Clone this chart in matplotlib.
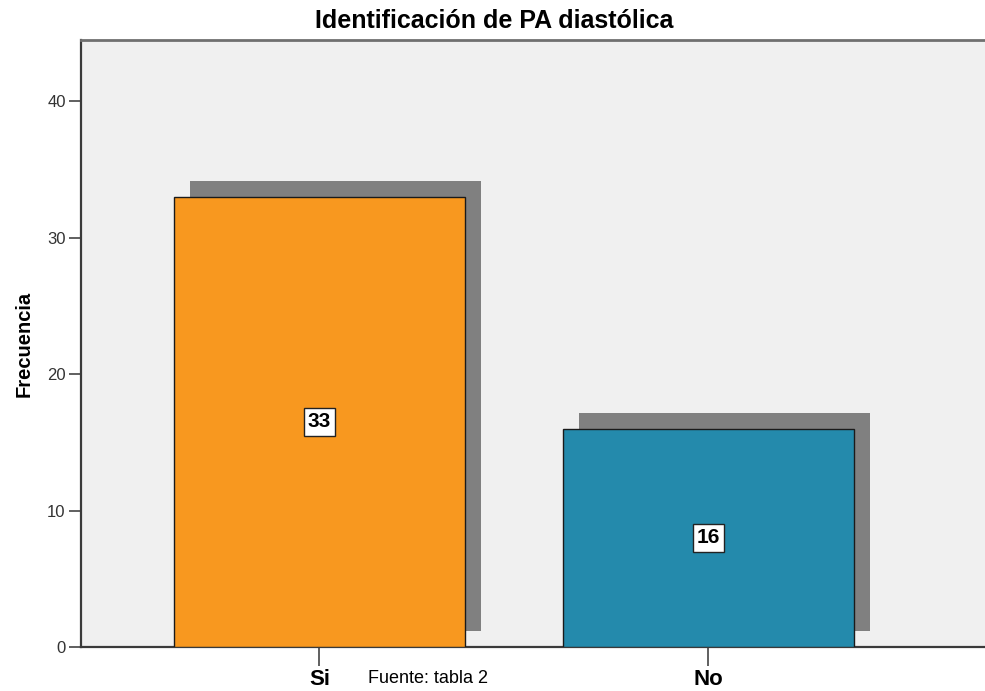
import numpy as np
import matplotlib
matplotlib.use("Agg")
import matplotlib.pyplot as plt
import matplotlib.transforms as mtransforms

plt.rcParams["font.family"] = ["Liberation Sans", "DejaVu Sans"]

categorias = ["Si", "No"]
frecuencias = [33, 16]
colores = ["#F8981F", "#248AAC"]
titulo = "Identificación de PA diastólica"
fuente = "Fuente: tabla 2"

W, H, DPI = 985, 691, 100
fig = plt.figure(figsize=(W / DPI, H / DPI), dpi=DPI)
# el area del grafico sigue mas alla del borde derecho
ax = fig.add_axes([81 / W, (H - 647) / H, (1000 - 81) / W, (647 - 40) / H])
ax.set_facecolor("#F0F0F0")

x = np.arange(len(categorias))
ancho = 0.748

# sombra desplazada hacia arriba a la derecha
sombra = mtransforms.offset_copy(ax.transData, fig=fig, x=16, y=16, units="dots")
ax.bar(x, frecuencias, width=ancho, color="#808080", transform=sombra, zorder=2)
ax.bar(x, frecuencias, width=ancho, color=colores, edgecolor="#1a1a1a",
       linewidth=1.0, zorder=3)

for xi, v in zip(x, frecuencias):
    ax.text(xi, v / 2, str(v), ha="center", va="center", fontsize=15,
            fontweight="bold", zorder=4,
            bbox=dict(boxstyle="square,pad=0.2", fc="white", ec="#222222", lw=1))

ax.set_xlim(-0.613, -0.613 + 919 / 389)
ax.set_ylim(0, 44.5)
ax.set_yticks([0, 10, 20, 30, 40])
ax.set_xticks(x)
ax.set_xticklabels(categorias, fontsize=16, fontweight="bold")
ax.tick_params(axis="y", length=9, width=1.2, color="#444444", labelsize=12,
               labelcolor="#333333", pad=2)
ax.tick_params(axis="x", length=14, width=1.2, color="#444444", pad=2)

for lado in ["left", "bottom"]:
    ax.spines[lado].set_color("#3a3a3a")
    ax.spines[lado].set_linewidth(1.6)
ax.spines["top"].set_color("#707070")
ax.spines["top"].set_linewidth(2)
ax.spines["right"].set_visible(False)

ax.set_ylabel("Frecuencia", fontsize=14.5, fontweight="bold", labelpad=10)
fig.text(494 / W, 1 - 21 / H, titulo, ha="center", va="center",
         fontsize=18, fontweight="bold")
fig.text(368 / W, 1 - 670 / H, fuente, ha="left", va="top", fontsize=13)

fig.savefig("out.png", dpi=DPI)
